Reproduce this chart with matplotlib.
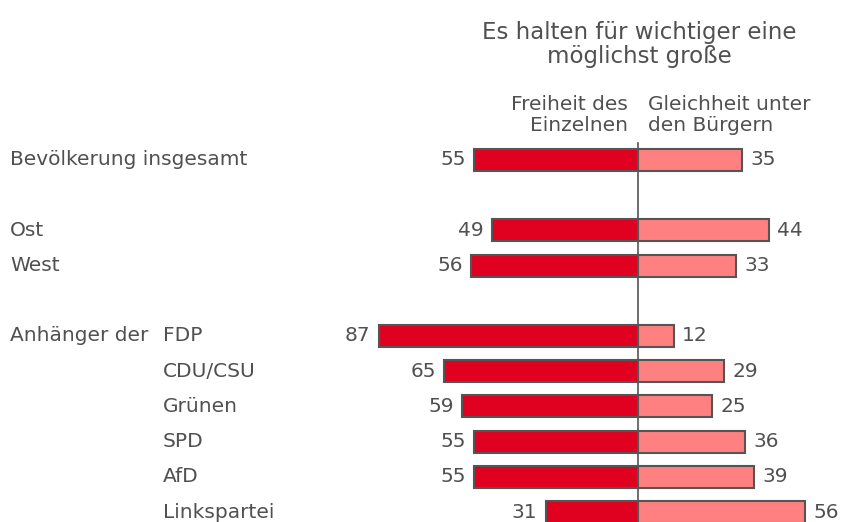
import matplotlib.pyplot as plt
from matplotlib.transforms import blended_transform_factory

plt.rcParams['font.family'] = ['DejaVu Sans']

groups = ['Bevölkerung insgesamt', 'Ost', 'West', 'FDP', 'CDU/CSU',
          'Grünen', 'SPD', 'AfD', 'Linkspartei']
rows = [0, 2, 3, 5, 6, 7, 8, 9, 10]
freiheit = [55, 49, 56, 87, 65, 59, 55, 55, 31]
gleichheit = [35, 44, 33, 12, 29, 25, 36, 39, 56]

txt = '#505050'
edge = '#555555'
dark = '#E0001F'
light = '#FF8080'

fig = plt.figure(figsize=(8.44, 5.22), dpi=100)
ax = fig.add_axes([0, 0, 1, 1])
ax.set_xlim(-214.3, 69.2)
ax.set_ylim(10.284, -4.545)
ax.axis('off')

ax.barh(rows, [-v for v in freiheit], height=0.63, color=dark,
        edgecolor=edge, linewidth=1.5, zorder=2)
ax.barh(rows, gleichheit, height=0.63, color=light,
        edgecolor=edge, linewidth=1.5, zorder=2)
ax.plot([0, 0], [-0.48, 10.6], color=edge, linewidth=1.2, zorder=3)

fs = 14.5
for r, f, g in zip(rows, freiheit, gleichheit):
    ax.text(-f - 2.8, r, str(f), ha='right', va='center', fontsize=fs, color=txt)
    ax.text(g + 2.8, r, str(g), ha='left', va='center', fontsize=fs, color=txt)

tr = blended_transform_factory(ax.transAxes, ax.transData)
for name, r in zip(groups, rows):
    if name in ('Bevölkerung insgesamt', 'Ost', 'West'):
        ax.text(10 / 844, r, name, ha='left', va='center', fontsize=fs,
                color=txt, transform=tr)
    else:
        ax.text(163 / 844, r, name, ha='left', va='center', fontsize=fs,
                color=txt, transform=tr)
ax.text(10 / 844, 5, 'Anhänger der', ha='left', va='center', fontsize=fs,
        color=txt, transform=tr)

ax.text(0.5, -3.28, 'Es halten für wichtiger eine\nmöglichst große', ha='center',
        va='center', fontsize=16.5, color=txt, linespacing=1.1)
ax.text(-3.5, -1.28, 'Freiheit des\nEinzelnen', ha='right', va='center',
        fontsize=fs, color=txt, linespacing=1.08)
ax.text(3.5, -1.28, 'Gleichheit unter\nden Bürgern', ha='left', va='center',
        fontsize=fs, color=txt, linespacing=1.08)

fig.savefig('out.png', dpi=100)
